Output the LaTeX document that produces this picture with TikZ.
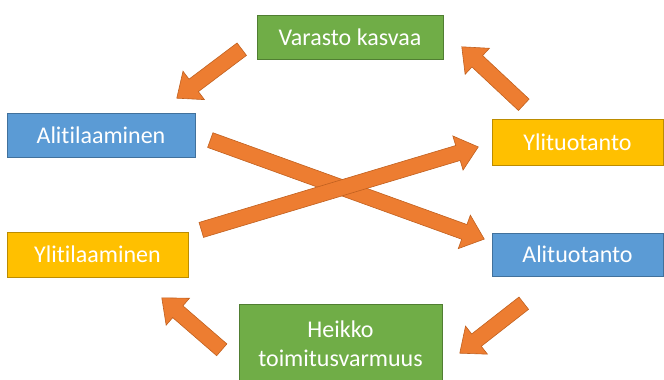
\documentclass[tikz,border=0pt]{standalone}
\usepackage{fontspec}
\setmainfont{Carlito}[Ligatures={NoCommon}]
\usetikzlibrary{shapes.arrows,calc}

\definecolor{boxgreen}{HTML}{70AD47}
\definecolor{boxgreenline}{HTML}{507E32}
\definecolor{boxblue}{HTML}{5B9BD5}
\definecolor{boxblueline}{HTML}{41719C}
\definecolor{boxgold}{HTML}{FFC000}
\definecolor{boxgoldline}{HTML}{BC8C00}
\definecolor{arroworange}{HTML}{ED7D31}
\definecolor{arrowline}{HTML}{C0601F}

\tikzset{
  stage/.style={rectangle, text=white, font=\fontsize{24}{29}\selectfont,
    line width=0.8pt, inner sep=0pt, align=center},
  greenstage/.style={stage, fill=boxgreen, draw=boxgreenline},
  bluestage/.style={stage, fill=boxblue, draw=boxblueline},
  goldstage/.style={stage, fill=boxgold, draw=boxgoldline},
  flow/.style={single arrow, fill=arroworange, draw=arrowline, line width=0.6pt,
    inner sep=0pt, single arrow head extend=10pt, single arrow tip angle=80,
    single arrow head indent=0pt, anchor=tail}
}

% block arrow from coordinate #1 (tail) to coordinate #2 (tip)
\newcommand\flowarrow[2]{%
  \path let \p1=($(#2)-(#1)$), \n1={atan2(\y1,\x1)}, \n2={veclen(\x1,\y1)} in
    node[flow, minimum height=\n2, rotate=\n1] at (#1) {\rule{0pt}{15pt}};}

\begin{document}
\begin{tikzpicture}[x=1pt, y=-1pt]
  \useasboundingbox (0,0) rectangle (664,380);

  % stages of the cycle
  \node[greenstage, minimum width=186pt, minimum height=44pt] (varasto) at (350,37) {Varasto kasvaa};
  \node[bluestage, minimum width=188pt, minimum height=44pt] (alitil) at (101,135) {Alitilaaminen};
  \node[goldstage, minimum width=171pt, minimum height=46pt] (ylituot) at (577.5,142) {Ylituotanto};
  \node[goldstage, minimum width=181pt, minimum height=45pt] (ylitil) at (97.5,254.5) {Ylitilaaminen};
  \node[bluestage, minimum width=171pt, minimum height=43pt] (alituot) at (577.5,254.5) {Alituotanto};
  \node[greenstage, minimum width=203pt, minimum height=80pt] (heikko) at (340.5,344) {Heikko\\toimitusvarmuus};

  % arrow end points
  \coordinate (t1) at (242,49);  \coordinate (h1) at (177,98);
  \coordinate (t2) at (524,105); \coordinate (h2) at (462,47);
  \coordinate (t3) at (210,140); \coordinate (h3) at (484,239);
  \coordinate (t4) at (201,230); \coordinate (h4) at (478,147);
  \coordinate (t5) at (524,303); \coordinate (h5) at (460,353);
  \coordinate (t6) at (222,350); \coordinate (h6) at (162,298);

  \flowarrow{t1}{h1}
  \flowarrow{t2}{h2}
  \flowarrow{t3}{h3}
  \flowarrow{t4}{h4}
  \flowarrow{t5}{h5}
  \flowarrow{t6}{h6}
\end{tikzpicture}
\end{document}
